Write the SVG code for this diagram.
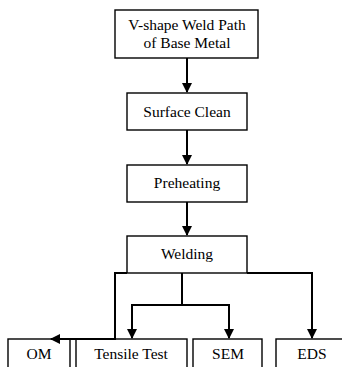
<svg xmlns="http://www.w3.org/2000/svg" width="342" height="367" viewBox="0 0 342 367">
<style>
.box{fill:#fff;stroke:#000;stroke-width:1.4}
text{font-family:'Liberation Serif','Times New Roman','DejaVu Serif',serif;font-size:15.5px;fill:#000;text-anchor:middle}
.c{fill:none;stroke:#000;stroke-width:2}
</style>
<defs>
<marker id="ah" markerWidth="10" markerHeight="10" refX="9" refY="5" orient="auto" markerUnits="userSpaceOnUse">
<path d="M0,0 L10,5 L0,10 Z" fill="#000"/>
</marker>
</defs>
<rect width="342" height="367" fill="#fff"/>
<g id="n1"><rect class="box" x="115" y="10" width="143" height="48"/><text x="187" y="30">V-shape Weld Path</text><text x="187" y="48">of Base Metal</text></g>
<g id="n2"><rect class="box" x="127" y="93" width="120" height="37"/><text x="187" y="117">Surface Clean</text></g>
<g id="n3"><rect class="box" x="127" y="165" width="120" height="37"/><text x="187" y="188">Preheating</text></g>
<g id="n4"><rect class="box" x="127" y="236" width="120" height="37"/><text x="187" y="259">Welding</text></g>
<g id="n5"><rect class="box" x="8" y="339" width="62" height="40"/><text x="39" y="359">OM</text></g>
<g id="n6"><rect class="box" x="76" y="339" width="111" height="40"/><text x="131" y="359">Tensile Test</text></g>
<g id="n7"><rect class="box" x="193" y="339" width="69" height="40"/><text x="228" y="359">SEM</text></g>
<g id="n8"><rect class="box" x="276" y="339" width="80" height="40"/><text x="312" y="359">EDS</text></g>
<g id="connectors">
<path class="c" d="M187,58 V92" marker-end="url(#ah)"/>
<path class="c" d="M187,130 V164" marker-end="url(#ah)"/>
<path class="c" d="M187,202 V235" marker-end="url(#ah)"/>
<path class="c" d="M127,273 H115 V339 H51" marker-end="url(#ah)"/>
<path class="c" d="M182,273 V305 H132 V338" marker-end="url(#ah)"/>
<path class="c" d="M182,305 H229 V338" marker-end="url(#ah)"/>
<path class="c" d="M247,273 H312 V338" marker-end="url(#ah)"/>
</g>
</svg>
